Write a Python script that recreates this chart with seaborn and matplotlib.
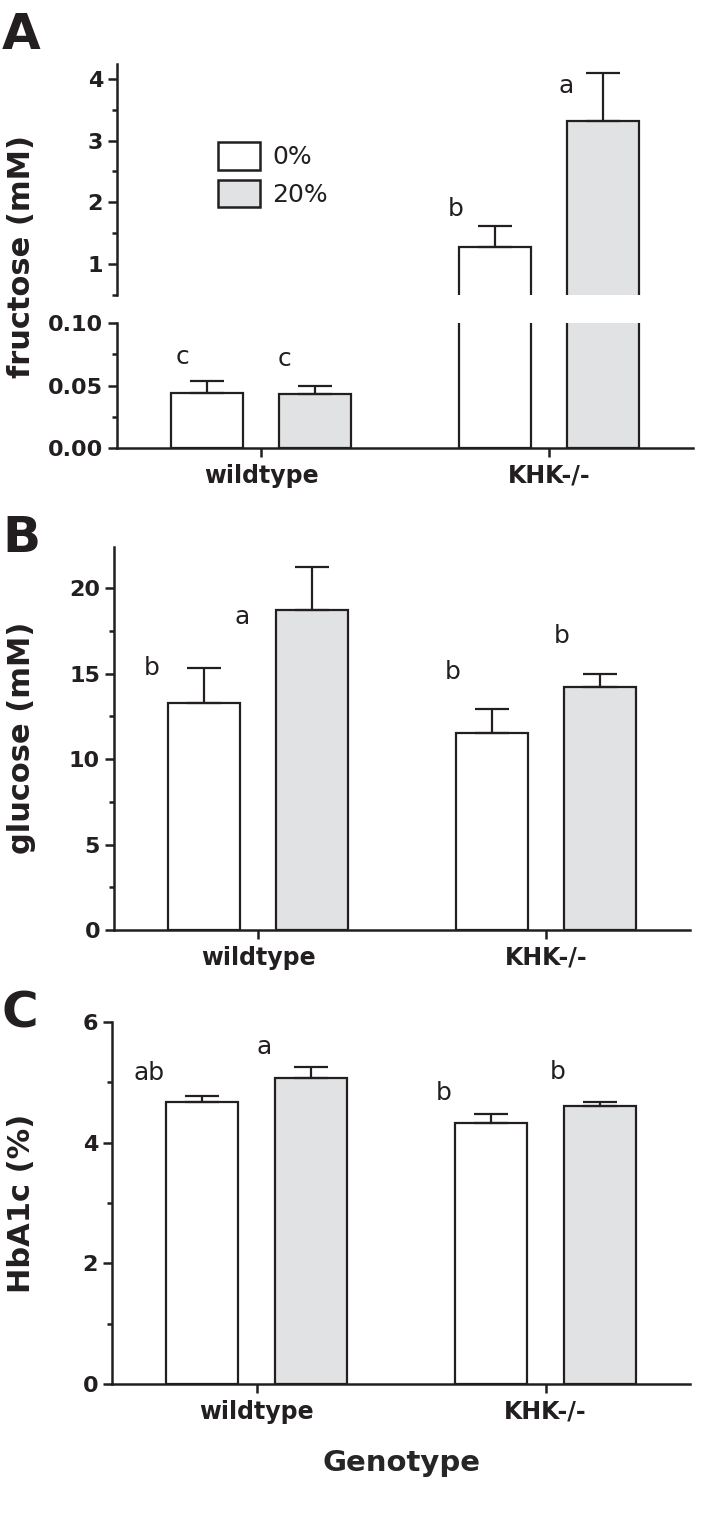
import numpy as np
import pandas as pd
import matplotlib
matplotlib.use('Agg')
import matplotlib.pyplot as plt
import seaborn as sns
from matplotlib.patches import Patch
from matplotlib.container import BarContainer

genotypes = ['wildtype', 'KHK-/-']
diets = ['0%', '20%']

# fructose (mM), mean and upper SEM, per diet over genotypes
fructose_0 = [0.044, 1.28]
fructose_20 = [0.043, 3.31]
fructose_err_0 = [0.0095, 0.34]
fructose_err_20 = [0.0067, 0.79]
fructose_letters_0 = ['c', 'b']
fructose_letters_20 = ['c', 'a']

# glucose (mM)
glucose_0 = [13.3, 11.5]
glucose_20 = [18.7, 14.2]
glucose_err_0 = [2.0, 1.45]
glucose_err_20 = [2.55, 0.8]
glucose_letters_0 = ['b', 'b']
glucose_letters_20 = ['a', 'b']

# HbA1c (%)
hba1c_0 = [4.67, 4.32]
hba1c_20 = [5.07, 4.61]
hba1c_err_0 = [0.10, 0.16]
hba1c_err_20 = [0.18, 0.06]
hba1c_letters_0 = ['ab', 'b']
hba1c_letters_20 = ['a', 'b']

# where the significance letters sit: offset from bar left edge, height in data units
fructose_letter_pos = {'dx': [[0.04, -0.013], [0.02, -0.004]], 'y': [[0.0725, 1.90], [0.071, 3.89]]}
glucose_letter_pos = {'dx': [[-0.055, -0.01], [-0.118, -0.008]], 'y': [[15.35, 15.11], [18.28, 17.22]]}
hba1c_letter_pos = {'dx': [[-0.058, -0.04], [-0.035, -0.022]], 'y': [[5.15, 4.83], [5.58, 5.17]]}

EDGE = '#231f20'
palette = {'0%': 'white', '20%': '#e1e2e3'}

sns.set_style('ticks')
plt.rcParams['font.family'] = ['DejaVu Sans']
plt.rcParams['font.weight'] = 'bold'
plt.rcParams['axes.linewidth'] = 1.8
plt.rcParams['axes.edgecolor'] = EDGE
for a in ['xtick', 'ytick']:
    plt.rcParams[a + '.major.size'] = 6.5
    plt.rcParams[a + '.major.width'] = 1.8
    plt.rcParams[a + '.minor.size'] = 3.5
    plt.rcParams[a + '.minor.width'] = 1.8
    plt.rcParams[a + '.color'] = EDGE
    plt.rcParams[a + '.direction'] = 'out'
plt.rcParams['xtick.labelsize'] = 17
plt.rcParams['ytick.labelsize'] = 16
plt.rcParams['ytick.major.pad'] = 3.5
plt.rcParams['xtick.major.pad'] = 5
plt.rcParams['text.color'] = EDGE


def make_frame(v0, v20):
    return pd.DataFrame({'genotype': genotypes * 2,
                         'diet': [diets[0]] * 2 + [diets[1]] * 2,
                         'value': v0 + v20})


def bar_groups(ax):
    return [c for c in ax.containers if isinstance(c, BarContainer)]


def draw_bars(ax, df, errs):
    sns.barplot(data=df, x='genotype', y='value', hue='diet', order=genotypes,
                hue_order=diets, palette=palette, saturation=1, width=0.75, gap=1 / 3,
                errorbar=None, edgecolor=EDGE, linewidth=1.6, legend=False, ax=ax)
    for bars, err in zip(bar_groups(ax), errs):
        xs = [b.get_x() + b.get_width() / 2 for b in bars]
        ys = [b.get_height() for b in bars]
        ax.errorbar(xs, ys, yerr=[np.zeros(len(err)), err], fmt='none', ecolor=EDGE,
                    elinewidth=1.6, capsize=12.5, capthick=1.6)
    ax.set_xlim(-0.5, 1.5)
    ax.set_xlabel('')
    ax.set_ylabel('')
    sns.despine(ax=ax)


def add_letters(axes, letters, pos, split=None):
    for k, bars in enumerate(bar_groups(axes[0])):
        for j, b in enumerate(bars):
            y = pos['y'][k][j]
            ax = axes[0] if (split is None or y < split) else axes[1]
            ax.text(b.get_x() + pos['dx'][k][j], y, letters[k][j], ha='center', va='center',
                    fontsize=18, fontweight='normal', color=EDGE)


fig = plt.figure(figsize=(7.02, 15.14), dpi=100)
W, H = 702.0, 1514.0


def px_axes(x0, y0, x1, y1):
    return fig.add_axes([x0 / W, 1 - y1 / H, (x1 - x0) / W, (y1 - y0) / H])


# ---- panel A: broken y axis ----
axA_top = px_axes(117, 64, 693, 295)
axA_bot = px_axes(117, 323, 693, 448)
fru_df = make_frame(fructose_0, fructose_20)
fru_errs = [fructose_err_0, fructose_err_20]
draw_bars(axA_top, fru_df, fru_errs)
draw_bars(axA_bot, fru_df, fru_errs)

axA_top.set_ylim(0.5, 4.24)
axA_top.set_yticks([1, 2, 3, 4])
axA_top.set_yticks([0.5, 1.5, 2.5, 3.5], minor=True)
axA_top.spines['bottom'].set_visible(False)
axA_top.tick_params(axis='x', bottom=False, labelbottom=False)

axA_bot.set_ylim(0, 0.1)
axA_bot.set_yticks([0, 0.05, 0.1], ['0.00', '0.05', '0.10'])
axA_bot.set_yticks([0.025, 0.075], minor=True)

add_letters([axA_bot, axA_top], [fructose_letters_0, fructose_letters_20],
            fructose_letter_pos, split=0.1)

axA_top.legend(handles=[Patch(facecolor=palette[d], edgecolor=EDGE, linewidth=1.8, label=d)
                        for d in diets],
               loc='upper left', bbox_to_anchor=(0.175, 0.662), frameon=False,
               borderpad=0, borderaxespad=0, handlelength=1.68, handleheight=1.32,
               labelspacing=0.4, handletextpad=0.5,
               prop={'size': 18, 'weight': 'normal'})

# ---- panel B ----
axB = px_axes(114, 547, 690, 930)
draw_bars(axB, make_frame(glucose_0, glucose_20), [glucose_err_0, glucose_err_20])
axB.set_ylim(0, 22.4)
axB.set_yticks([0, 5, 10, 15, 20])
axB.set_yticks([2.5, 7.5, 12.5, 17.5], minor=True)
add_letters([axB], [glucose_letters_0, glucose_letters_20], glucose_letter_pos)

# ---- panel C ----
axC = px_axes(112, 1022, 690, 1384)
draw_bars(axC, make_frame(hba1c_0, hba1c_20), [hba1c_err_0, hba1c_err_20])
axC.set_ylim(0, 6)
axC.set_yticks([0, 2, 4, 6])
axC.set_yticks([1, 3, 5], minor=True)
add_letters([axC], [hba1c_letters_0, hba1c_letters_20], hba1c_letter_pos)
axC.set_xlabel('Genotype', fontsize=21, fontweight='bold', labelpad=18)

# y labels and panel letters
for text, yc in [('fructose (mM)', 256), ('glucose (mM)', 738), ('HbA1c (%)', 1203)]:
    fig.text(22 / W, 1 - yc / H, text, rotation=90, ha='center', va='center',
             fontsize=22, fontweight='bold')
for text, yb in [('A', 49), ('B', 552), ('C', 1027)]:
    fig.text(2 / W, 1 - yb / H, text, ha='left', va='baseline',
             fontsize=36, fontweight='bold')

fig.savefig('out.png', dpi=100)
